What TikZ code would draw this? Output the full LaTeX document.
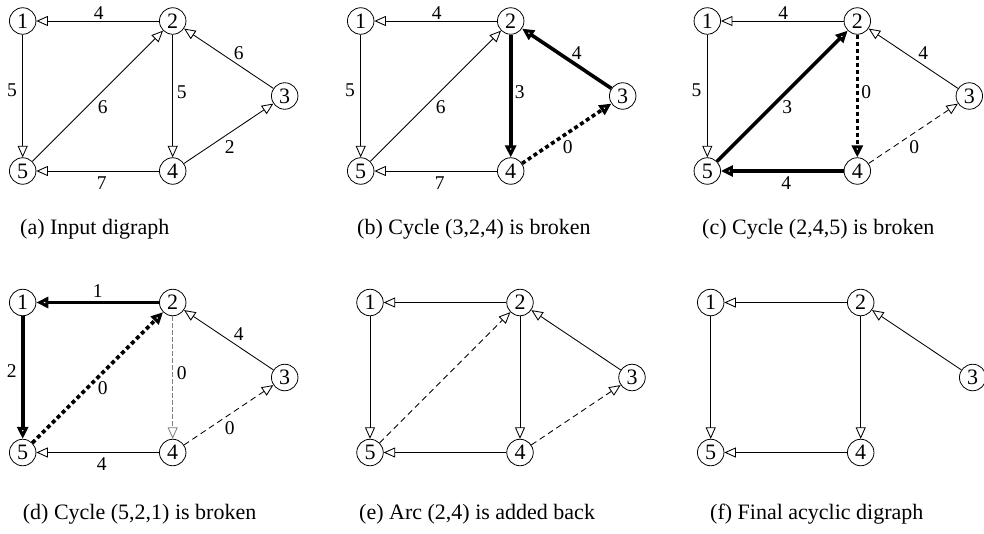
\documentclass[tikz,border=0pt]{standalone}
\usepackage{fontspec}
\setmainfont{Liberation Serif}
\usetikzlibrary{arrows.meta}
\tikzset{
  vtx/.style={circle,draw,line width=0.8pt,minimum size=26.5pt,inner sep=0pt,font=\fontsize{22}{22}\selectfont},
  lab/.style={inner sep=0pt,font=\fontsize{19.5}{19.5}\selectfont,midway},
  captext/.style={anchor=west,inner sep=0pt,font=\fontsize{22}{22}\selectfont},
  tarr/.style={draw,line width=0.85pt,-{Triangle[open,length=11.5pt,width=10pt]}},
  tharr/.style={draw,line width=3.6pt,-{Triangle[open,length=12pt,width=11pt]}},
  tdash/.style={tarr,dash pattern=on 6pt off 4pt},
  thdash/.style={tharr,dash pattern=on 4pt off 3pt},
  gdash/.style={tarr,draw=gray,dash pattern=on 4.5pt off 2.5pt},
  l21/.style={xshift=1pt,yshift=8pt},
  l15/.style={xshift=-10.7pt,yshift=6pt},
  l52/.style={xshift=5pt,yshift=-11pt},
  l24/.style={xshift=9pt,yshift=4pt},
  l32/.style={xshift=10pt,yshift=5.5pt},
  l43/.style={xshift=1pt,yshift=-13.5pt},
  l45/.style={xshift=4pt,yshift=-12pt}
}
\newcommand\fivenodes[1]{%
  \node[vtx] (#11) at (0,0) {1};
  \node[vtx] (#12) at (150,0) {2};
  \node[vtx] (#13) at (262,75) {3};
  \node[vtx] (#14) at (150,150) {4};
  \node[vtx] (#15) at (0,150) {5};
}
\begin{document}
\begin{tikzpicture}[x=1pt,y=-1pt]
\useasboundingbox (0,0) rectangle (984,533);

% (a)
\begin{scope}[shift={(22.7,21)}]
\fivenodes{a}
\draw[tarr] (a2) -- node[lab,l21]{4} (a1);
\draw[tarr] (a1) -- node[lab,l15]{5} (a5);
\draw[tarr] (a5) -- node[lab,l52]{6} (a2);
\draw[tarr] (a2) -- node[lab,l24]{5} (a4);
\draw[tarr] (a3) -- node[lab,l32]{6} (a2);
\draw[tarr] (a4) -- node[lab,l43]{2} (a3);
\draw[tarr] (a4) -- node[lab,l45]{7} (a5);
\end{scope}
\node[captext] (capa) at (20,229) {(a) Input digraph};

% (b)
\begin{scope}[shift={(360.7,21)}]
\fivenodes{b}
\draw[tarr] (b2) -- node[lab,l21]{4} (b1);
\draw[tarr] (b1) -- node[lab,l15]{5} (b5);
\draw[tarr] (b5) -- node[lab,l52]{6} (b2);
\draw[tharr] (b2) -- node[lab,l24]{3} (b4);
\draw[tharr] (b3) -- node[lab,l32]{4} (b2);
\draw[thdash] (b4) -- node[lab,l43]{0} (b3);
\draw[tarr] (b4) -- node[lab,l45]{7} (b5);
\end{scope}
\node[captext] (capb) at (357,229) {(b) Cycle (3,2,4) is broken};

% (c)
\begin{scope}[shift={(707.3,21)}]
\fivenodes{c}
\draw[tarr] (c2) -- node[lab,l21]{4} (c1);
\draw[tarr] (c1) -- node[lab,l15]{5} (c5);
\draw[tharr] (c5) -- node[lab,l52]{3} (c2);
\draw[thdash] (c2) -- node[lab,l24]{0} (c4);
\draw[tarr] (c3) -- node[lab,l32]{4} (c2);
\draw[tdash] (c4) -- node[lab,l43]{0} (c3);
\draw[tharr] (c4) -- node[lab,l45]{4} (c5);
\end{scope}
\node[captext] (capc) at (702,229) {(c) Cycle (2,4,5) is broken};

% (d)
\begin{scope}[shift={(22.7,302.5)}]
\fivenodes{d}
\draw[tharr] (d2) -- node[lab,xshift=0pt,yshift=11pt]{1} (d1);
\draw[tharr] (d1) -- node[lab,xshift=-11pt,yshift=6pt]{2} (d5);
\draw[thdash] (d5) -- node[lab,l52]{0} (d2);
\draw[gdash] (d2) -- node[lab,l24]{0} (d4);
\draw[tarr] (d3) -- node[lab,l32]{4} (d2);
\draw[tdash] (d4) -- node[lab,l43]{0} (d3);
\draw[tarr] (d4) -- node[lab,l45]{4} (d5);
\end{scope}
\node[captext] (capd) at (22.7,514) {(d) Cycle (5,2,1) is broken};

% (e)
\begin{scope}[shift={(370,302.5)}]
\fivenodes{e}
\draw[tarr] (e2) -- (e1);
\draw[tarr] (e1) -- (e5);
\draw[tdash] (e5) -- (e2);
\draw[tarr] (e2) -- (e4);
\draw[tarr] (e3) -- (e2);
\draw[tdash] (e4) -- (e3);
\draw[tarr] (e4) -- (e5);
\end{scope}
\node[captext] (cape) at (359,514) {(e) Arc (2,4) is added back};

% (f)
\begin{scope}[shift={(710.7,302.5)}]
\fivenodes{f}
\draw[tarr] (f2) -- (f1);
\draw[tarr] (f1) -- (f5);
\draw[tarr] (f2) -- (f4);
\draw[tarr] (f3) -- (f2);
\draw[tarr] (f4) -- (f5);
\end{scope}
\node[captext] (capf) at (710,514) {(f) Final acyclic digraph};
\end{tikzpicture}
\end{document}
